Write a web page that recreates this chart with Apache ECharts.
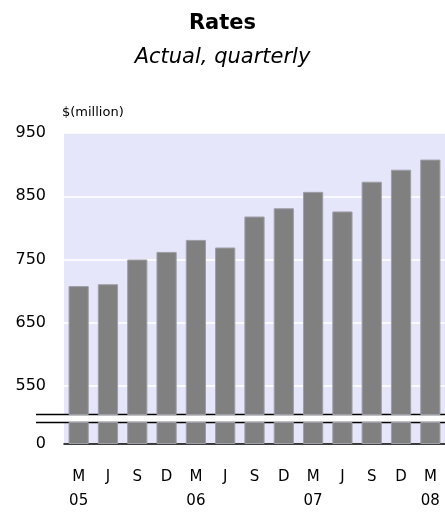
<!DOCTYPE html>
<html>
<head>
<meta charset="utf-8">
<script src="https://cdn.jsdelivr.net/npm/echarts@6/dist/echarts.min.js"></script>
<style>
  html, body { margin: 0; padding: 0; background: #ffffff; }
  #chart { width: 445px; height: 513px; }
</style>
</head>
<body>
<div id="chart"></div>
<script>
// Quarter-end months and the year shown beneath each March
const months = ['M', 'J', 'S', 'D', 'M', 'J', 'S', 'D', 'M', 'J', 'S', 'D', 'M'];
const years = ['05', '', '', '', '06', '', '', '', '07', '', '', '', '08'];
// Rates revenue, $ million
const rates = [708, 711, 750, 762, 781, 769, 818, 831, 857, 826, 873, 892, 908];
// Value-axis labels above the break
const upperTicks = [550, 650, 750, 850, 950];

const categories = months.map((m, i) => i);

// Layout of the broken value axis
const plotLeft = 64;
const upperTop = 133;
const upperHeight = 281.5;
const lowerTop = 422.5;
const lowerHeight = 26;
const fontFamily = '"DejaVu Sans", Verdana, sans-serif';

const chart = echarts.init(document.getElementById('chart'));

const barStyle = {
  color: '#808080',
  borderColor: '#9e9ea8',
  borderWidth: 1
};

chart.setOption({
  animation: false,
  backgroundColor: '#ffffff',
  title: {
    text: 'Rates',
    subtext: 'Actual, quarterly',
    left: 'center',
    top: 8,
    itemGap: 13,
    textStyle: { fontFamily, fontSize: 21, fontWeight: 'bold', color: '#000000' },
    subtextStyle: { fontFamily, fontSize: 21, fontStyle: 'italic', color: '#000000' }
  },
  grid: [
    {
      left: plotLeft, right: -6, top: upperTop, height: upperHeight,
      show: true, backgroundColor: '#e6e6fa', borderWidth: 0
    },
    {
      left: plotLeft, right: -6, top: lowerTop, height: lowerHeight,
      show: true, backgroundColor: '#e6e6fa', borderWidth: 0
    }
  ],
  xAxis: [
    {
      type: 'category', gridIndex: 0, data: categories,
      axisLine: { show: false }, axisTick: { show: false }, axisLabel: { show: false }
    },
    {
      type: 'category', gridIndex: 1, data: categories,
      axisLine: { show: true, lineStyle: { color: '#000000', width: 1.5 } },
      axisTick: { show: false },
      axisLabel: {
        interval: 0,
        margin: 21,
        fontFamily, fontSize: 15, color: '#000000', lineHeight: 24,
        formatter: (v, i) => years[i] ? months[i] + '\n' + years[i] : months[i]
      }
    }
  ],
  yAxis: [
    {
      type: 'value', gridIndex: 0, min: 505, max: 950,
      name: '$(million)',
      nameLocation: 'end',
      nameGap: 14,
      nameTextStyle: { fontFamily, fontSize: 13, color: '#000000', align: 'left', padding: [0, 0, 0, -2] },
      axisLine: { show: false }, axisTick: { show: false, customValues: upperTicks },
      axisLabel: { customValues: upperTicks, fontFamily, fontSize: 16, color: '#000000', margin: 18 },
      splitLine: { show: true, lineStyle: { color: '#ffffff', width: 1.5 } }
    },
    {
      type: 'value', gridIndex: 1, min: 0, max: 40,
      axisLine: { show: false }, axisTick: { show: false },
      axisLabel: { customValues: [0], fontFamily, fontSize: 16, color: '#000000', margin: 18 },
      splitLine: { show: false }
    }
  ],
  series: [
    {
      type: 'bar', xAxisIndex: 0, yAxisIndex: 0, data: rates,
      barWidth: '69%', itemStyle: barStyle, clip: true
    },
    {
      type: 'bar', xAxisIndex: 1, yAxisIndex: 1, data: rates,
      barWidth: '69%', itemStyle: barStyle, clip: true
    }
  ],
  graphic: [
    {
      type: 'line', silent: true,
      shape: { x1: 36, y1: upperTop + upperHeight, x2: 445, y2: upperTop + upperHeight },
      style: { stroke: '#000000', lineWidth: 1.5 }
    },
    {
      type: 'line', silent: true,
      shape: { x1: 36, y1: lowerTop, x2: 445, y2: lowerTop },
      style: { stroke: '#000000', lineWidth: 1.5 }
    }
  ]
});
</script>
</body>
</html>
